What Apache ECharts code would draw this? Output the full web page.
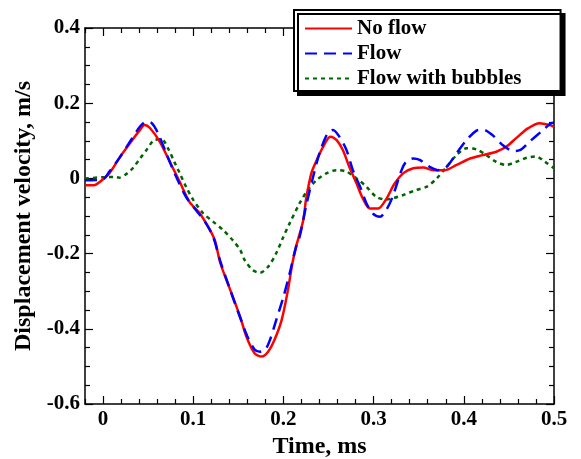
<!DOCTYPE html>
<html><head><meta charset="utf-8">
<script src="https://cdn.jsdelivr.net/npm/echarts@6/dist/echarts.min.js"></script>
<style>html,body{margin:0;padding:0;background:#fff}#c{width:581px;height:459px}</style>
</head><body><div id="c"></div>
<script>
const seriesNames = ['No flow', 'Flow', 'Flow with bubbles'];
const xTickLabels = [0, 0.1, 0.2, 0.3, 0.4, 0.5];
const xMinorTicks = [-0.02,0.02,0.04,0.06,0.08,0.12,0.14,0.16,0.18,0.22,0.24,0.26,0.28,0.32,0.34,0.36,0.38,0.42,0.44,0.46,0.48];

const tNoFlow = [-0.02,-0.01,-0.004,0.007,0.018,0.03,0.041,0.046,0.052,0.063,0.074,0.085,0.096,0.107,0.118,0.124,0.13,0.14,0.152,0.159,0.168,0.176,0.183,0.19,0.198,0.205,0.21,0.214,0.222,0.225,0.231,0.237,0.244,0.252,0.259,0.266,0.273,0.281,0.288,0.296,0.305,0.314,0.323,0.333,0.344,0.355,0.366,0.379,0.392,0.407,0.421,0.436,0.447,0.458,0.471,0.484,0.495,0.5];
const vNoFlow = [-0.018,-0.018,-0.01,0.014,0.054,0.094,0.129,0.142,0.134,0.097,0.044,-0.009,-0.063,-0.092,-0.135,-0.165,-0.225,-0.29,-0.368,-0.421,-0.465,-0.474,-0.461,-0.43,-0.377,-0.297,-0.225,-0.182,-0.111,-0.057,0.014,0.049,0.084,0.111,0.102,0.075,0.031,-0.013,-0.053,-0.08,-0.08,-0.055,-0.015,0.014,0.027,0.029,0.022,0.022,0.036,0.053,0.062,0.071,0.084,0.107,0.133,0.147,0.142,0.137];

const tFlow = [-0.02,0.0,0.007,0.018,0.03,0.041,0.048,0.054,0.061,0.07,0.081,0.092,0.103,0.114,0.122,0.13,0.14,0.152,0.16,0.168,0.174,0.18,0.185,0.192,0.2,0.207,0.214,0.218,0.225,0.233,0.24,0.249,0.255,0.262,0.27,0.277,0.285,0.292,0.299,0.307,0.314,0.321,0.331,0.336,0.344,0.351,0.362,0.371,0.381,0.392,0.403,0.414,0.421,0.432,0.443,0.455,0.462,0.473,0.488,0.497,0.5];
const vFlow = [-0.005,-0.002,0.018,0.054,0.098,0.138,0.151,0.147,0.12,0.067,0.005,-0.049,-0.084,-0.119,-0.155,-0.22,-0.29,-0.37,-0.42,-0.455,-0.461,-0.455,-0.43,-0.377,-0.315,-0.252,-0.182,-0.155,-0.075,0.005,0.067,0.12,0.129,0.111,0.075,0.022,-0.022,-0.066,-0.093,-0.102,-0.084,-0.049,0.022,0.044,0.053,0.049,0.031,0.022,0.031,0.067,0.102,0.127,0.13,0.115,0.089,0.073,0.075,0.098,0.129,0.147,0.148];

const tBubbles = [-0.02,0.0,0.013,0.018,0.026,0.033,0.041,0.048,0.057,0.065,0.072,0.079,0.085,0.092,0.1,0.111,0.122,0.133,0.144,0.152,0.157,0.166,0.174,0.183,0.192,0.2,0.207,0.218,0.227,0.237,0.248,0.259,0.27,0.281,0.292,0.303,0.314,0.321,0.333,0.347,0.359,0.37,0.381,0.392,0.403,0.414,0.425,0.436,0.447,0.458,0.47,0.48,0.49,0.5];
const vBubbles = [0.0,0.003,0.004,0.002,0.012,0.027,0.053,0.075,0.102,0.104,0.08,0.044,0.014,-0.022,-0.057,-0.093,-0.115,-0.137,-0.165,-0.19,-0.217,-0.244,-0.251,-0.235,-0.199,-0.155,-0.119,-0.066,-0.031,-0.004,0.014,0.022,0.018,0.0,-0.022,-0.049,-0.056,-0.053,-0.044,-0.031,-0.022,0.0,0.031,0.062,0.08,0.077,0.062,0.044,0.036,0.044,0.055,0.058,0.044,0.027];

const pair = (t, v) => t.map((x, i) => [x, v[i]]);
const FONT = "'Liberation Serif', 'DejaVu Serif', serif";
const txt = {fontFamily: FONT, fontWeight: 'bold', fontSize: 21, color: '#000'};
const nameTxt = Object.assign({}, txt, {fontSize: 24});
const axLine = {show: true, onZero: false, lineStyle: {color: '#000', width: 1.5}};
const noLine = {show: false, onZero: false};

function xAx(pos, major, labels, name) {
  return {
    type: 'value', min: -0.02, max: 0.5, position: pos,
    name: name || '', nameLocation: 'middle', nameGap: 31, nameTextStyle: nameTxt,
    axisLine: major ? axLine : noLine,
    axisTick: {show: true, inside: true, length: major ? 8 : 5,
      customValues: major ? xTickLabels : xMinorTicks,
      lineStyle: {color: '#000', width: 1.2}},
    axisLabel: labels ? Object.assign({show: true, margin: 5, customValues: xTickLabels}, txt) : {show: false},
    splitLine: {show: false}
  };
}
function yAx(pos, labels, name) {
  return {
    type: 'value', min: -0.6, max: 0.4, interval: 0.2, position: pos,
    name: name || '', nameLocation: 'middle', nameGap: 46, nameTextStyle: nameTxt,
    axisLine: axLine,
    axisTick: {show: true, inside: true, length: 8, lineStyle: {color: '#000', width: 1.2}},
    minorTick: {show: true, splitNumber: 4, length: 5, lineStyle: {color: '#000', width: 1.2}},
    axisLabel: labels ? Object.assign({show: true, margin: 5}, txt) : {show: false},
    splitLine: {show: false}
  };
}

const chart = echarts.init(document.getElementById('c'), null, {renderer: 'canvas'});
chart.setOption({
  backgroundColor: '#fff',
  animation: false,
  grid: {left: 85, right: 27, top: 28, bottom: 55, containLabel: false, outerBoundsMode: 'none'},
  xAxis: [xAx('bottom', true, true, 'Time, ms'), xAx('bottom', false, false), xAx('top', true, false), xAx('top', false, false)],
  yAxis: [yAx('left', true, 'Displacement velocity, m/s'), yAx('right', false)],
  legend: {
    orient: 'vertical', left: 294, top: 10, z: 20,
    backgroundColor: '#fff', borderColor: '#000', borderWidth: 2,
    shadowColor: '#000', shadowOffsetX: 4, shadowOffsetY: 4, shadowBlur: 0,
    padding: [8, 39, 2, 10], itemWidth: 47, itemHeight: 14, itemGap: 4,
    itemStyle: {opacity: 0},
    textStyle: txt, data: seriesNames
  },
  series: [
    {name: seriesNames[0], type: 'line', data: pair(tNoFlow, vNoFlow), smooth: 0.3, symbol: 'none',
      lineStyle: {color: '#ff0000', width: 2.5}, itemStyle: {color: '#ff0000'}, z: 3},
    {name: seriesNames[1], type: 'line', data: pair(tFlow, vFlow), smooth: 0.3, symbol: 'none',
      lineStyle: {color: '#0000ff', width: 2.5, type: [12, 7]}, itemStyle: {color: '#0000ff'}, z: 4},
    {name: seriesNames[2], type: 'line', data: pair(tBubbles, vBubbles), smooth: 0.3, symbol: 'none',
      lineStyle: {color: '#006400', width: 2.5, type: [4, 4]}, itemStyle: {color: '#006400'}, z: 2}
  ]
});
</script></body></html>
